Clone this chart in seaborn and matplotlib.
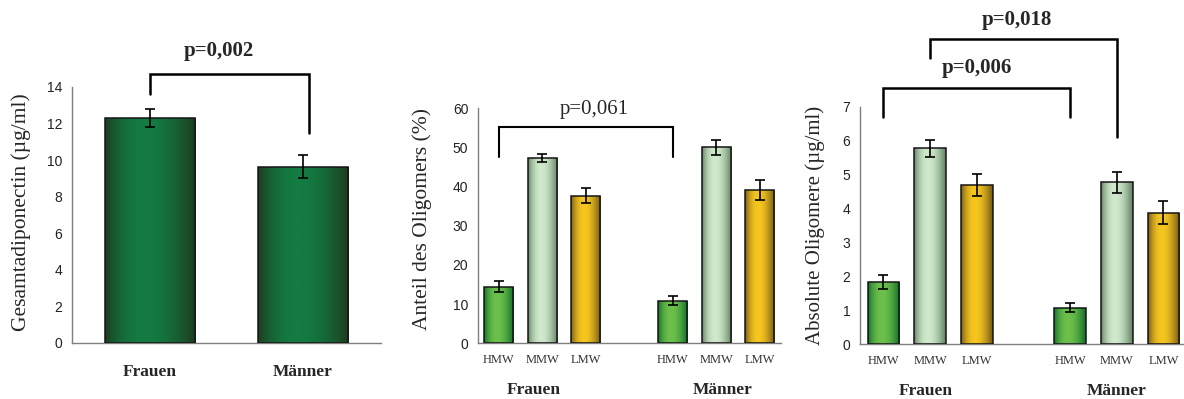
import numpy as np
import pandas as pd
import matplotlib
matplotlib.use("Agg")
import matplotlib.pyplot as plt
from matplotlib.colors import LinearSegmentedColormap
from matplotlib.transforms import blended_transform_factory
import seaborn as sns

# ---- data -------------------------------------------------------------
sex_labels = ["Frauen", "Männer"]
total_mean = [12.3, 9.65]
total_sem = [0.5, 0.62]

oligomer_labels = ["HMW", "MMW", "LMW"]

share_frauen = [14.5, 47.4, 37.7]
share_frauen_sem = [1.3, 1.0, 2.0]
share_maenner = [10.9, 50.0, 39.1]
share_maenner_sem = [1.2, 2.0, 2.5]

abs_frauen = [1.83, 5.77, 4.69]
abs_frauen_sem = [0.21, 0.26, 0.33]
abs_maenner = [1.08, 4.77, 3.88]
abs_maenner_sem = [0.13, 0.30, 0.33]

# ---- style ------------------------------------------------------------
sns.set_style("white")
plt.rcParams["font.family"] = ["Liberation Serif", "DejaVu Serif"]
SANS = ["Liberation Sans", "DejaVu Sans"]
SPINE = "#7f7f7f"

# (edge colour, centre colour) of the shaded bars
total_shade = ("#1d3a1f", "#137c42")
oligo_shade = {
    "HMW": ("#0b6a29", "#6dc04b"),
    "MMW": ("#5c7d5d", "#d0e9cc"),
    "LMW": ("#6c5217", "#f6c61f"),
}


def shade_bar(ax, patch, edge_c, mid_c):
    x0, y0 = patch.get_x(), patch.get_y()
    w, h = patch.get_width(), patch.get_height()
    t = np.linspace(0, 1, 200)
    prof = np.sin(np.pi * t ** 0.85) ** 0.9
    cmap = LinearSegmentedColormap.from_list("bar", [edge_c, mid_c])
    img = ax.imshow(prof[None, :], cmap=cmap, vmin=0, vmax=1,
                    extent=[x0, x0 + w, y0, y0 + h], aspect="auto",
                    interpolation="bilinear", zorder=2)
    img.set_clip_path(patch)
    patch.set_facecolor("none")
    patch.set_edgecolor("#151515")
    patch.set_linewidth(1.1)
    patch.set_zorder(3)


def style_axes(ax, ymax, ystep):
    sns.despine(ax=ax)
    for s in ("left", "bottom"):
        ax.spines[s].set_color(SPINE)
        ax.spines[s].set_linewidth(1.0)
    ax.set_ylim(0, ymax)
    ax.set_yticks(np.arange(0, ymax + 0.001, ystep))
    ax.tick_params(axis="y", direction="out", length=4, width=1, color=SPINE,
                   labelsize=10, labelcolor="#222222", pad=3)
    for lab in ax.get_yticklabels():
        lab.set_family(SANS)
    ax.set_xlabel("")
    ax.set_ylabel("")


def bracket(ax, x0, x1, y, y0_end, y1_end, lw=1.8):
    ax.plot([x0, x0, x1, x1], [y0_end, y, y, y1_end], color="black",
            lw=lw, clip_on=False, solid_joinstyle="miter", zorder=5)


fig = plt.figure(figsize=(11.84, 3.99), dpi=100)

# ---- panel 1: total adiponectin ---------------------------------------
ax1 = fig.add_axes([0.0608, 0.1404, 0.2610, 0.6416])
df1 = pd.DataFrame({"sex": sex_labels, "value": total_mean, "sem": total_sem})
sns.barplot(data=df1, x="sex", y="value", order=sex_labels, color=total_shade[1],
            width=0.59, errorbar=None, ax=ax1)
for p in ax1.patches:
    shade_bar(ax1, p, *total_shade)
ax1.errorbar(range(len(sex_labels)), total_mean, yerr=total_sem, fmt="none",
             ecolor="black", elinewidth=1.2, capsize=3.8, capthick=1.2, zorder=4)
style_axes(ax1, 14, 2)
ax1.set_xlim(-0.51, 1.51)
ax1.tick_params(axis="x", length=0, pad=15)
for lab in ax1.get_xticklabels():
    lab.set_fontweight("bold")
    lab.set_fontsize(12.5)
ax1.text(-0.163, 0.51, "Gesamtadiponectin (µg/ml)", transform=ax1.transAxes,
         rotation=90, ha="center", va="center", fontsize=15.5)
bracket(ax1, 0.0, 1.04, 14.69, 13.6, 11.48)
ax1.text(0.45, 15.4, "p=0,002", ha="center", va="bottom", fontsize=15,
         fontweight="bold")


# ---- panels 2 and 3: oligomers ----------------------------------------
def oligomer_panel(ax, f_vals, f_sem, m_vals, m_sem, ymax, ystep, width):
    f_slots = [f"Frauen {k}" for k in oligomer_labels]
    m_slots = [f"Männer {k}" for k in oligomer_labels]
    order = f_slots + [" "] + m_slots
    df = pd.DataFrame({
        "slot": f_slots + m_slots,
        "value": list(f_vals) + list(m_vals),
        "sem": list(f_sem) + list(m_sem),
        "kind": oligomer_labels * 2,
    })
    pal = {k: v[1] for k, v in oligo_shade.items()}
    sns.barplot(data=df, x="slot", y="value", hue="kind", order=order,
                hue_order=oligomer_labels, palette=pal, dodge=False,
                width=width, errorbar=None, legend=False, ax=ax)
    kind_of_pos = {order.index(s): k for s, k in zip(df["slot"], df["kind"])}
    for p in list(ax.patches):
        if p.get_height() == 0 or np.isnan(p.get_height()):
            continue
        pos = int(round(p.get_x() + p.get_width() / 2))
        shade_bar(ax, p, *oligo_shade[kind_of_pos[pos]])
    xs = [order.index(s) for s in df["slot"]]
    ax.errorbar(xs, df["value"], yerr=df["sem"], fmt="none", ecolor="black",
                elinewidth=1.2, capsize=3.8, capthick=1.2, zorder=4)
    style_axes(ax, ymax, ystep)
    ax.set_xticks(range(len(order)))
    ax.set_xticklabels(oligomer_labels + [""] + oligomer_labels)
    ax.tick_params(axis="x", length=0, pad=8, labelsize=9,
                   labelcolor="#333333")
    return order


ax2 = fig.add_axes([0.4037, 0.1396, 0.2559, 0.5890])
oligomer_panel(ax2, share_frauen, share_frauen_sem, share_maenner,
               share_maenner_sem, 60, 10, 0.67)
ax2.set_xlim(-0.48, 6.49)
ax2.text(-0.185, 0.527, "Anteil des Oligomers (%)", transform=ax2.transAxes,
         rotation=90, ha="center", va="center", fontsize=15.5)
bracket(ax2, 0.0, 4.0, 55.2, 47.6, 47.6, lw=1.5)
ax2.text(2.2, 57.3, "p=0,061", ha="center", va="bottom", fontsize=15)
tr2 = blended_transform_factory(ax2.transData, ax2.transAxes)
ax2.text(0.8, -0.2, "Frauen", transform=tr2, ha="center", va="center",
         fontsize=12.5, fontweight="bold")
ax2.text(5.15, -0.2, "Männer", transform=tr2, ha="center", va="center",
         fontsize=12.5, fontweight="bold")

ax3 = fig.add_axes([0.7264, 0.1371, 0.2728, 0.5955])
oligomer_panel(ax3, abs_frauen, abs_frauen_sem, abs_maenner,
               abs_maenner_sem, 7, 1, 0.68)
ax3.set_xlim(-0.50, 6.42)
ax3.text(-0.139, 0.5, "Absolute Oligomere (µg/ml)", transform=ax3.transAxes,
         rotation=90, ha="center", va="center", fontsize=15)
bracket(ax3, 0.0, 4.0, 7.56, 6.69, 6.69)
ax3.text(2.0, 7.85, "p=0,006", ha="center", va="bottom", fontsize=15,
         fontweight="bold")
bracket(ax3, 1.0, 5.0, 9.0, 8.43, 6.1)
ax3.text(2.85, 9.27, "p=0,018", ha="center", va="bottom", fontsize=15,
         fontweight="bold")
tr3 = blended_transform_factory(ax3.transData, ax3.transAxes)
ax3.text(0.9, -0.195, "Frauen", transform=tr3, ha="center", va="center",
         fontsize=12.5, fontweight="bold")
ax3.text(5.0, -0.195, "Männer", transform=tr3, ha="center", va="center",
         fontsize=12.5, fontweight="bold")

fig.savefig("out.png", dpi=100, facecolor="white")
